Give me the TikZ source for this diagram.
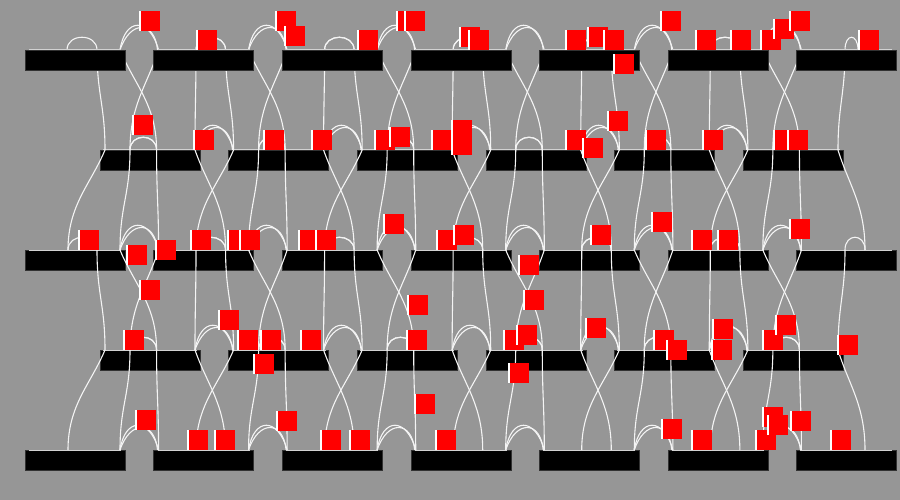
\documentclass[tikz,border=0pt]{standalone}
\definecolor{bg}{RGB}{150,150,150}
\definecolor{ln}{RGB}{244,244,244}
\definecolor{topln}{RGB}{210,210,210}
\tikzset{
  strand/.style={draw=ln, line width=1.1pt},
  barbox/.style={fill=black, draw={rgb,255:red,50;green,50;blue,50}, line width=0.4pt},
  barline/.style={draw=topln, line width=1pt}
}
% hook strand: from (xs,ys) up to upper row, passing (xp,yl), landing at (xl,yl) from above
\newcommand\hkstr[5]{%
  \draw[strand] ({#1},{-(#2)}) .. controls ({#1},{-(#2)+45}) and ({#3},{-(#5)-45}) .. ({#3},{-(#5)})
     .. controls ({#3},{-(#5)+17}) and ({#4},{-(#5)+17}) .. ({#4},{-(#5)});}
% crossing strand: from (xs,ys) down to (xl,yl)
\newcommand\xstr[4]{%
  \draw[strand] ({#1},{-(#2)}) .. controls ({#1+0.4*(#3-#1)},{-(#2)-35}) and ({#3},{-(#4)+45}) .. ({#3},{-(#4)});}
% double tent over a gap
\newcommand\gtent[3]{%
  \draw[strand] ({#1},{-(#3)}) .. controls ({#1+5},{-(#3)+33}) and ({#2-9},{-(#3)+33}) .. ({#2},{-(#3)});
  \draw[strand] ({#1},{-(#3)}) .. controls ({#1+10},{-(#3)+30}) and ({#2-4},{-(#3)+30}) .. ({#2-1},{-(#3)});}
\newcommand\rsq[2]{%
  \fill[white] ({#1},{-(#2)}) rectangle ({#1+2},{-(#2)-20});
  \fill[red] ({#1+2},{-(#2)}) rectangle ({#1+21},{-(#2)-20});}
\begin{document}
\begin{tikzpicture}[x=1pt,y=1pt]
\useasboundingbox (0,0) rectangle (900,-500);
\fill[bg] (0,0) rectangle (900,-500);
% bars of rows 2..5
\foreach \y in {250,450}{
  \foreach \i in {0,...,6}{
    \pgfmathsetmacro\a{25+128.57*\i}
    \path[barbox] (\a,-\y) rectangle ({\a+100},{-\y-20});
  }}
\foreach \y in {150,350}{
  \foreach \j in {0,...,5}{
    \pgfmathsetmacro\b{100+128.57*\j}
    \path[barbox] (\b,-\y) rectangle ({\b+100},{-\y-20});
  }}
% top lines
\foreach \y in {250,450}{
  \foreach \i in {0,...,6}{
    \pgfmathsetmacro\a{25+128.57*\i}
    \draw[barline] ({\a+4},-\y) -- ({\a+96},-\y);
  }}
\foreach \y in {150,350}{
  \foreach \j in {0,...,5}{
    \pgfmathsetmacro\b{100+128.57*\j}
    \draw[barline] ({\b+3},-\y) -- ({\b+97},-\y);
  }}
% odd-row gaps
\foreach \i in {0,...,5}{
  \pgfmathsetmacro\L{120+128.57*\i}
  \pgfmathsetmacro\R{158.57+128.57*\i}
  \pgfmathsetmacro\A{\L+10}
  \pgfmathsetmacro\B{\R-2}
  \foreach \y in {50,250,450}{\gtent{\L}{\R}{\y}}
  \foreach \y in {50,250}{
    \pgfmathsetmacro\yn{\y+100}
    \xstr{\L}{\y}{\B}{\yn}
    \xstr{\R}{\y}{\A}{\yn}}
  \foreach \y in {250,450}{
    \pgfmathsetmacro\yu{\y-100}
    \hkstr{\L}{\y}{\A}{\B}{\yu}
    \hkstr{\R}{\y}{\B}{\A}{\yu}}
}
% even-row gaps
\foreach \j in {0,...,4}{
  \pgfmathsetmacro\L{195+128.57*\j}
  \pgfmathsetmacro\R{233.57+128.57*\j}
  \pgfmathsetmacro\A{\L+1}
  \pgfmathsetmacro\B{\R-8}
  \foreach \y in {150,350}{
    \gtent{\L}{\R}{\y}
    \pgfmathsetmacro\yn{\y+100}
    \pgfmathsetmacro\yu{\y-100}
    \xstr{\L}{\y}{\B}{\yn}
    \xstr{\R}{\y}{\A}{\yn}
    \hkstr{\L}{\y}{\A}{\B}{\yu}
    \hkstr{\R}{\y}{\B}{\A}{\yu}}
}
% outer ends of even rows
\hkstr{105}{150}{97}{67}{50}
\xstr{105}{150}{68}{250}
\hkstr{105}{350}{97}{68}{250}
\xstr{105}{350}{68}{450}
\hkstr{838}{150}{845}{858}{50}
\xstr{838}{150}{865}{250}
\hkstr{838}{350}{845}{865}{250}
\xstr{838}{350}{865}{450}
% row 1 bars on top
\foreach \i in {0,...,6}{
  \pgfmathsetmacro\a{25+128.57*\i}
  \path[barbox] (\a,-50) rectangle ({\a+100},-70);
  \draw[barline] ({\a+4},-50) -- ({\a+96},-50);
}
% red squares
\foreach \p/\q in {139/11, 196/30, 275/11, 284/26, 357/30, 396/11, 404/11, 459/27, 468/30, 565/30, 587/27, 603/30, 613/54, 660/11, 695/30, 730/30, 760/30, 773/19, 789/11, 858/30,
 132/115, 193/130, 263/130, 311/130, 374/130, 389/127, 431/130, 451/120, 451/135, 565/130, 582/138, 607/111, 645/130, 702/130, 773/130, 787/130,
 78/230, 126/245, 155/240, 139/280, 190/230, 227/230, 239/230, 218/310, 298/230, 315/230, 383/214, 436/230, 453/225, 518/255, 407/295, 523/290, 590/225, 651/212, 691/230, 717/230, 789/219,
 123/330, 237/330, 253/354, 260/330, 300/330, 406/330, 503/330, 516/325, 508/363, 585/318, 653/330, 666/340, 712/319, 711/340, 762/330, 775/315, 837/335,
 135/410, 187/430, 214/430, 276/411, 320/430, 349/430, 414/394, 435/430, 661/419, 691/430, 755/430, 762/407, 767/415, 790/411, 830/430}{
  \rsq{\p}{\q}
}
\end{tikzpicture}
\end{document}
